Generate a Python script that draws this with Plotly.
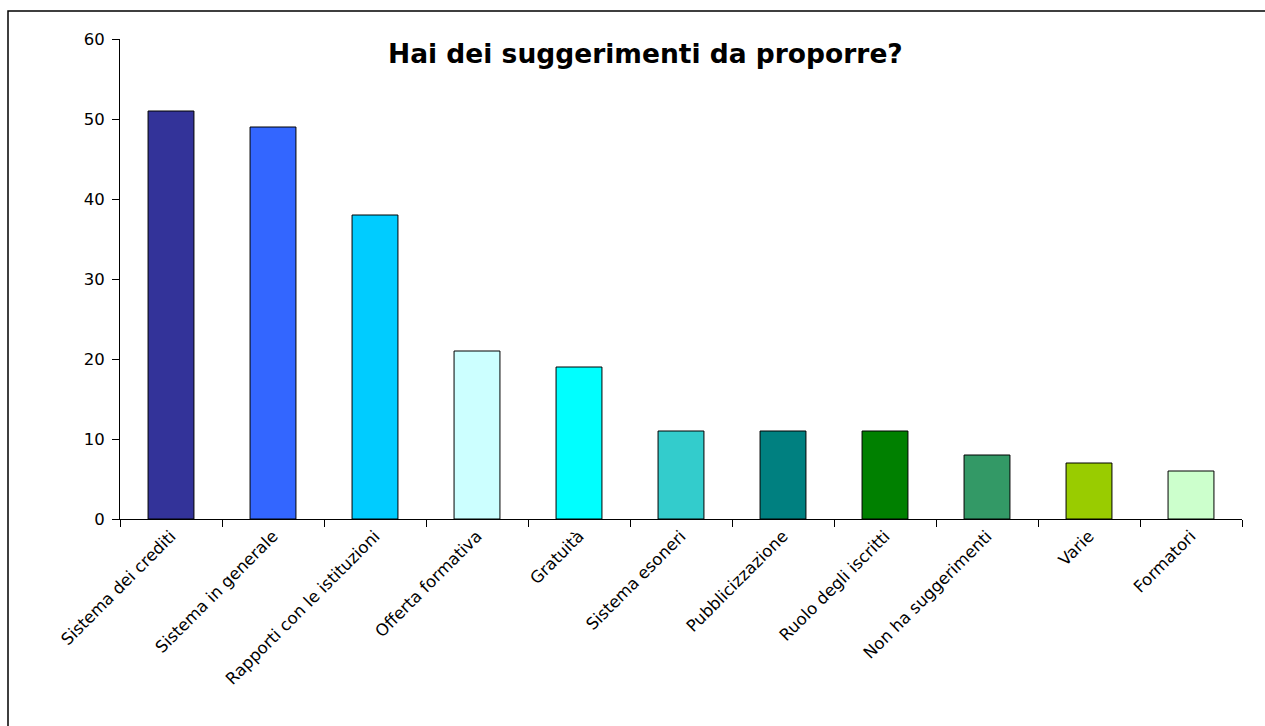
import plotly.graph_objects as go

categories = ["Sistema dei crediti", "Sistema in generale", "Rapporti con le istituzioni",
              "Offerta formativa", "Gratuità", "Sistema esoneri", "Pubblicizzazione",
              "Ruolo degli iscritti", "Non ha suggerimenti", "Varie", "Formatori"]
values = [51, 49, 38, 21, 19, 11, 11, 11, 8, 7, 6]
colors = ["#333399", "#3366FF", "#00CCFF", "#CCFFFF", "#00FFFF", "#33CCCC",
          "#008080", "#008000", "#339966", "#99CC00", "#CCFFCC"]
title = "Hai dei suggerimenti da proporre?"
y_ticks = [0, 10, 20, 30, 40, 50, 60]

FONT = "DejaVu Sans"

fig = go.Figure(go.Bar(
    x=categories, y=values,
    marker=dict(color=colors, line=dict(color="#000000", width=1)),
    width=0.45,
))

fig.update_layout(
    width=1265, height=726,
    margin=dict(l=120, r=23, t=39, b=207),
    paper_bgcolor="white", plot_bgcolor="white",
    showlegend=False,
    font=dict(family=FONT, color="#000000"),
    xaxis=dict(
        type="category", tickangle=-45, tickson="boundaries",
        ticks="outside", ticklen=7, tickcolor="#000000",
        showline=True, linecolor="#000000", linewidth=1,
        showgrid=False, tickfont=dict(size=16.5, family=FONT),
    ),
    yaxis=dict(
        range=[0, 60], tickvals=y_ticks, ticks="outside", ticklen=7,
        tickcolor="#000000", showline=True, linecolor="#000000", linewidth=1,
        showgrid=False, zeroline=False, tickfont=dict(size=16.5, family=FONT),
        ticklabelstandoff=4,
    ),
    annotations=[dict(
        text="<b>" + title + "</b>", xref="paper", yref="paper",
        x=(645 - 120) / 1122, y=(519 - 53) / 480, xanchor="center", yanchor="middle",
        showarrow=False, font=dict(size=26.5, family=FONT, color="#000000"),
    )],
    shapes=[dict(
        type="rect", xref="paper", yref="paper",
        x0=(8 - 120) / 1122, x1=(1275 - 120) / 1122,
        y0=(519 - 740) / 480, y1=(519 - 11) / 480,
        line=dict(color="#000000", width=1.5), fillcolor="rgba(0,0,0,0)", layer="below",
    )],
)

fig.write_html("out.html")
